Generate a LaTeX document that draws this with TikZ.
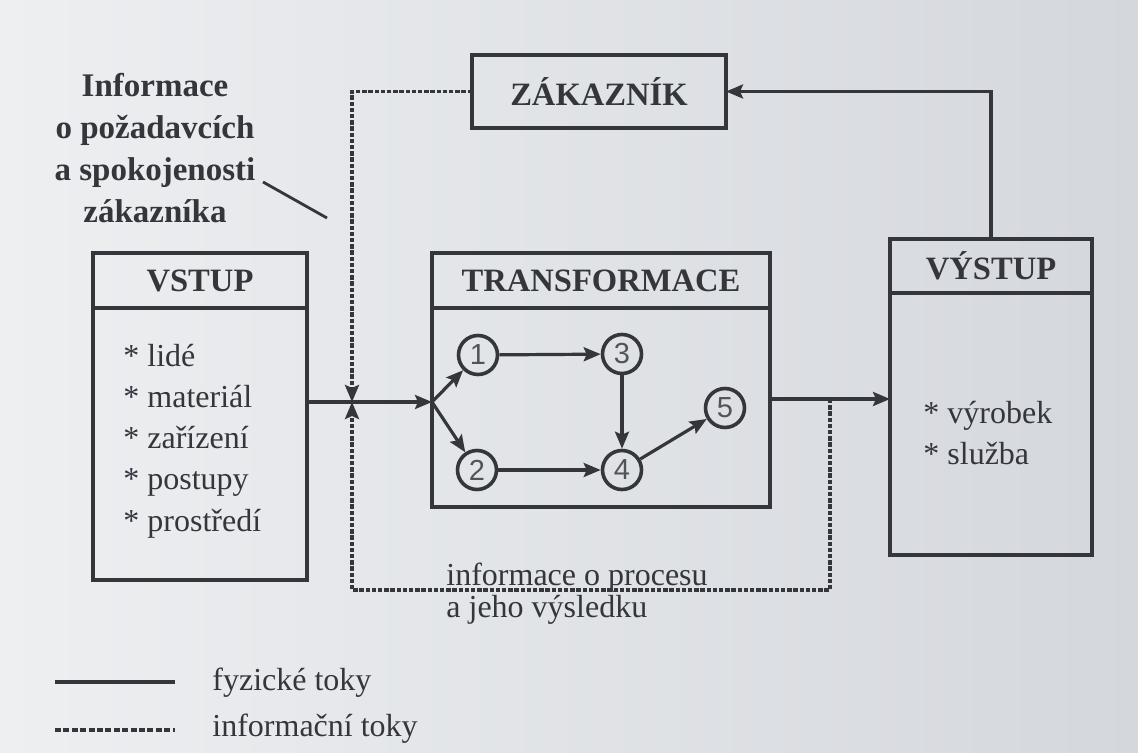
\documentclass[tikz,border=0pt]{standalone}
\usepackage{fontspec}
\setmainfont{Liberation Serif}
\newfontfamily\digitfont{Liberation Sans}
\usetikzlibrary{arrows.meta,positioning}
\definecolor{ink}{RGB}{52,54,59}
\definecolor{paperL}{RGB}{237,239,241}
\definecolor{paperR}{RGB}{212,215,220}
\tikzset{
    >={Stealth[length=8.5pt,width=7pt,inset=1.5pt]},
    head/.style={
        draw=ink,
        line width=2.3pt,
        outer sep=0pt,
        inner sep=0pt,
        minimum width=#1,
        minimum height=27.5pt,
        text=ink,
        font=\fontsize{16.3}{18}\bfseries\selectfont,
    },
    bodybox/.style={
        draw=ink,
        line width=2.3pt,
        outer sep=0pt,
        minimum width=#1,
    },
    state/.style={
        draw=ink,
        circle,
        line width=1.8pt,
        minimum size=19.5pt,
        inner sep=0pt,
        text=ink!85,
        font=\digitfont\fontsize{14.5}{14.5}\selectfont,
    },
    items/.style={
        align=left,
        inner sep=0pt,
        text=ink,
        font=\fontsize{16}{20.6}\selectfont,
    },
    plain/.style={
        inner sep=0pt,
        text=ink,
        font=\fontsize{16}{19}\selectfont,
    },
    flow/.style={draw=ink, line width=1.6pt},
    info/.style={draw=ink, line width=1.6pt, dash pattern=on 2.2pt off 0.9pt},
}

\begin{document}
\begin{tikzpicture}[x=0.5pt, y=-0.5pt]
    \shade[left color=paperL, right color=paperR] (0,0) rectangle (1138,753);

    % boxes
    \node[head=127pt, minimum height=36.5pt] (zakaznik) at (599,91.5) {ZÁKAZNÍK};
    \node[head=107pt] (vstup) at (200,280.5) {VSTUP};
    \node[bodybox=107pt, minimum height=136pt, below=0pt of vstup] (vstupbody) {};
    \node[head=169pt] (transf) at (601,280.5) {TRANSFORMACE};
    \node[bodybox=169pt, minimum height=99.5pt, below=0pt of transf] (transfbody) {};
    \node[head=101pt, minimum height=27pt] (vystup) at (991,266) {VÝSTUP};
    \node[bodybox=101pt, minimum height=131pt, below=0pt of vystup] (vystupbody) {};

    \node[items, anchor=west] (vstupitems) at (123,441)
        {* lidé\\* materiál\\* zařízení\\* postupy\\* prostředí};
    \node[items, anchor=west] (vystupitems) at (923,433) {* výrobek\\* služba};

    % process inside the transformation
    \node[state] (c1) at (478,355) {1};
    \node[state] (c3) at (622,354) {3};
    \node[state] (c2) at (477,470) {2};
    \node[state] (c4) at (622,470) {4};
    \node[state] (c5) at (725,408) {5};

    \coordinate (junction) at (352,402);
    \coordinate (tap) at (830,399);
    \coordinate (infobottom) at (352,590);

    \draw[flow,->] (vstupbody.east |- junction) -- (transfbody.west |- junction);
    \draw[flow,->] (transfbody.west |- junction) -- (c1);
    \draw[flow,->] (transfbody.west |- junction) -- (c2);
    \draw[flow,->] (c1) -- (c3);
    \draw[flow,->] (c3) -- (c4);
    \draw[flow,->] (c2) -- (c4);
    \draw[flow,->] (c4) -- (c5);
    \draw[flow,->] (transfbody.east |- tap) -- (vystupbody.west |- tap);
    \draw[flow,->] (vystup.north) |- (zakaznik.east);

    % information flows
    \draw[info,->] (zakaznik.west) -| (junction);
    \draw[info,->] (tap) |- (infobottom) -- (junction);

    \node[align=center, anchor=north, inner sep=0pt, text=ink,
        font=\fontsize{16.5}{21}\bfseries\selectfont] (custinfo) at (155,73)
        {Informace\\o požadavcích\\a spokojenosti\\zákazníka};
    \coordinate (leadA) at (263,182);
    \coordinate (leadB) at (327,218);
    \draw[flow, line width=1.4pt] (leadA) -- (leadB);

    \node[plain, anchor=base west] (procinfo) at (446,585) {informace o procesu};
    \node[plain, anchor=base west] (procinfob) at (446,617) {a jeho výsledku};

    % legend
    \draw[flow, line width=2pt] (55,682) -- (175,682);
    \draw[info, line width=2pt, dash pattern=on 3pt off 1.2pt] (55,730) -- (175,730);
    \node[plain, anchor=base west] (legflow) at (212,690) {fyzické toky};
    \node[plain, anchor=base west] (leginfo) at (212,736) {informační toky};
\end{tikzpicture}
\end{document}
